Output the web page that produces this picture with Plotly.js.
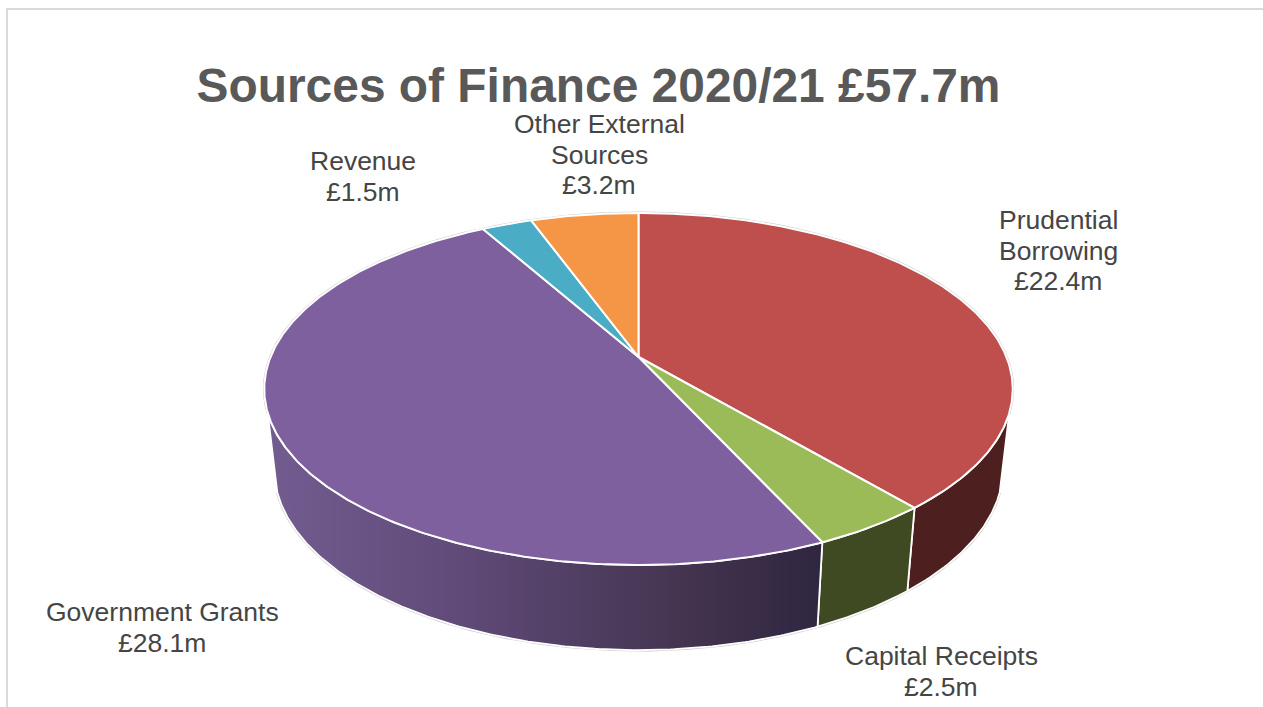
<!DOCTYPE html>
<html>
<head>
<meta charset="utf-8">
<script src="https://cdn.plot.ly/plotly-3.0.1.min.js"></script>
<style>html,body{margin:0;padding:0;background:#fff;overflow:hidden}#chart{width:1263px;height:707px}</style>
</head>
<body>
<div id="chart"></div>
<script>
// ---- data ----
const chartTitle = 'Sources of Finance 2020/21 £57.7m';
const categories = ['Prudential Borrowing', 'Capital Receipts', 'Government Grants', 'Revenue', 'Other External Sources'];
const values = [22.4, 2.5, 28.1, 1.5, 3.2];
const labelLines = [['Prudential', 'Borrowing'], ['Capital Receipts'], ['Government Grants'], ['Revenue'], ['Other External', 'Sources']];

// ---- style ----
const topColors = ['#BE4F4D', '#9BBB59', '#7F609E', '#4BACC6', '#F59646'];
const wallColors = ['#4E1F1F', '#404A22', null, null, null];
const wallGradient = [[0, '#735C90'], [0.35, '#5F4A78'], [0.75, '#443450'], [1, '#2F2640']];
const labelAnchors = [[1058, 220], [941, 656], [162, 612], [362.5, 161], [599, 124]];
const lineStep = 30.6;

// ---- projection of the tilted disc ----
const cx = 638.5, cy = 357, rx = 368, ry = 170.2, persp = 0.1818;
const botScaleX = 0.974, botScaleY = 1.034, botCy = 435;
const tangent = 108;  // degrees clockwise from 12 o'clock where the wall silhouette starts

function topPt(deg) {
  const t = deg * Math.PI / 180, u = Math.sin(t), v = Math.cos(t), d = 1 + persp * v;
  return [cx + rx * u / d, cy - ry * v / d];
}
function botPt(deg) {
  const p = topPt(deg);
  return [cx + botScaleX * (p[0] - cx), botCy + botScaleY * (p[1] - cy)];
}
function arc(fn, a0, a1) {
  const n = Math.max(2, Math.ceil(Math.abs(a1 - a0) * 2)), pts = [];
  for (let i = 0; i <= n; i++) pts.push(fn(a0 + (a1 - a0) * i / n));
  return pts;
}

const total = values.reduce((a, b) => a + b, 0);
let running = 0;
const spans = values.map(v => { const s = [running, running + v * 360 / total]; running = s[1]; return s; });

const traces = [];

// soft grey rim round the whole solid
const rimTop = arc(topPt, 0, 360), rimBot = arc(botPt, tangent, 360 - tangent);
[rimTop, rimBot].forEach(pts => traces.push({
  type: 'scatter', mode: 'lines', x: pts.map(p => p[0]), y: pts.map(p => p[1]),
  line: {color: '#C8C8C8', width: 2.8}, hoverinfo: 'skip', showlegend: false
}));

// side walls
spans.forEach((s, i) => {
  const a0 = Math.max(s[0], tangent), a1 = Math.min(s[1], 360 - tangent);
  if (a1 <= a0) return;
  const pts = arc(topPt, a0, a1).concat(arc(botPt, a0, a1).reverse());
  pts.push(pts[0]);
  const tr = {
    type: 'scatter', mode: 'lines', fill: 'toself',
    x: pts.map(p => p[0]), y: pts.map(p => p[1]),
    line: {color: '#FFFFFF', width: 1.8},
    name: categories[i], hoverinfo: 'name', showlegend: false
  };
  if (wallColors[i]) tr.fillcolor = wallColors[i];
  else tr.fillgradient = {type: 'horizontal', colorscale: wallGradient, start: 268, stop: 822};
  traces.push(tr);
});

// top faces
spans.forEach((s, i) => {
  const pts = [[cx, cy]].concat(arc(topPt, s[0], s[1]));
  pts.push([cx, cy]);
  traces.push({
    type: 'scatter', mode: 'lines', fill: 'toself',
    x: pts.map(p => p[0]), y: pts.map(p => p[1]),
    fillcolor: topColors[i], line: {color: '#FFFFFF', width: 2},
    name: categories[i], text: '£' + values[i].toFixed(1) + 'm', hoverinfo: 'name+text', showlegend: false
  });
});

// labels: one annotation per line so the line spacing can be matched
const annotations = [];
categories.forEach((c, i) => {
  labelLines[i].concat('£' + values[i].toFixed(1) + 'm').forEach((line, j) => {
    annotations.push({
      xref: 'x', yref: 'y', x: labelAnchors[i][0], y: labelAnchors[i][1] + j * lineStep,
      text: line, showarrow: false, xanchor: 'center', yanchor: 'middle',
      font: {family: 'Liberation Sans, Arial, sans-serif', size: 26.5, color: '#454545'}
    });
  });
});

const layout = {
  width: 1263, height: 707,
  margin: {l: 0, r: 0, t: 0, b: 0, pad: 0},
  paper_bgcolor: '#FFFFFF', plot_bgcolor: '#FFFFFF',
  showlegend: false,
  title: {
    text: '<b>' + chartTitle + '</b>',
    font: {family: 'Liberation Sans, Arial, sans-serif', size: 47.9, color: '#595959'},
    x: 598.5 / 1263, xanchor: 'center', xref: 'paper',
    y: 1 - 85 / 707, yanchor: 'middle', yref: 'paper'
  },
  xaxis: {range: [0, 1263], visible: false, fixedrange: true},
  yaxis: {range: [707, 0], visible: false, fixedrange: true},
  annotations: annotations,
  shapes: [
    {type: 'line', xref: 'x', yref: 'y', x0: 7, y0: 9, x1: 7, y1: 707, line: {color: '#D9D9D9', width: 2}},
    {type: 'line', xref: 'x', yref: 'y', x0: 6, y0: 9, x1: 1263, y1: 9, line: {color: '#D9D9D9', width: 2}}
  ]
};
Plotly.newPlot('chart', traces, layout, {displayModeBar: false, responsive: false});
</script>
</body>
</html>
